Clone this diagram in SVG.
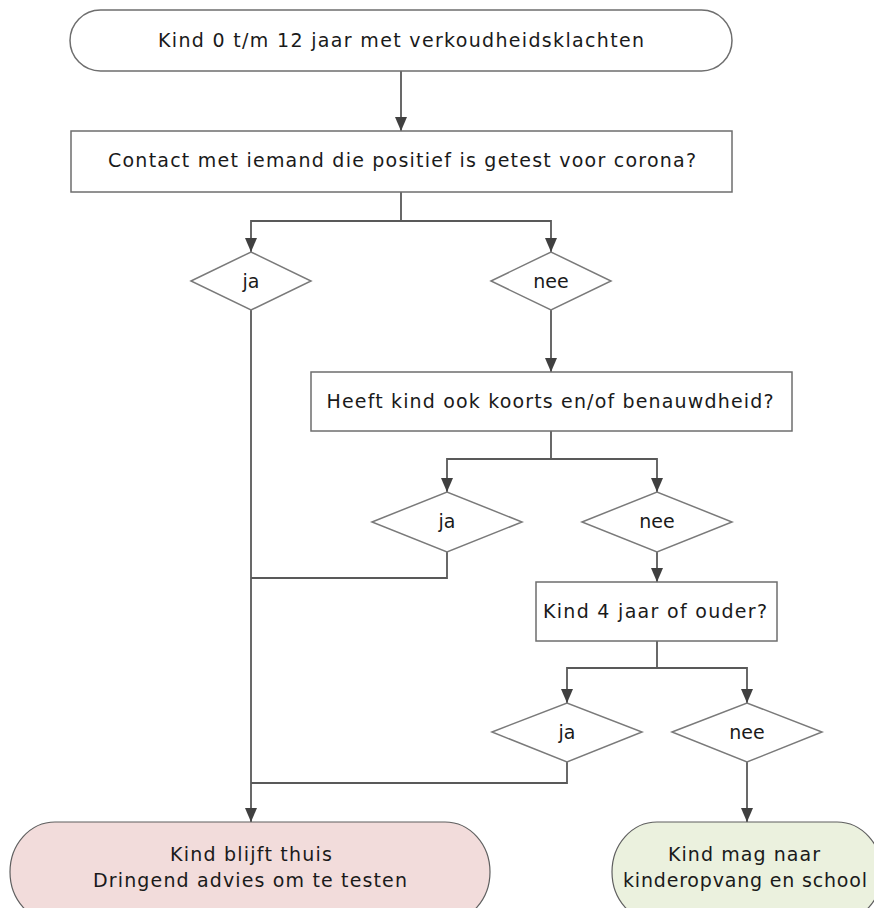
<svg xmlns="http://www.w3.org/2000/svg" width="874" height="908" viewBox="0 0 874 908">
<style>
.node{fill:#ffffff;stroke:#6e6e6e;stroke-width:1.5}
.dia{fill:#ffffff;stroke:#7a7a7a;stroke-width:1.5}
.stop{fill:#f2dcdb;stroke:#5f5f5f;stroke-width:1.2}
.go{fill:#ebf1de;stroke:#5f5f5f;stroke-width:1.2}
.t{font-family:"DejaVu Sans",Verdana,sans-serif;font-size:19px;fill:#1a1a1a;text-anchor:middle}
.c{fill:none;stroke:#595959;stroke-width:1.8}
</style>
<defs>
<marker id="ah" markerUnits="userSpaceOnUse" viewBox="0 0 14 12" refX="14" refY="6" markerWidth="14" markerHeight="12" orient="auto">
<path d="M0,0 L14,6 L0,12 z" fill="#404040"/>
</marker>
</defs>
<g id="connectors">
<path class="c" d="M401,71 V131" marker-end="url(#ah)"/>
<path class="c" d="M401,192 V221 H251 V252" marker-end="url(#ah)"/>
<path class="c" d="M401,221 H551 V252" marker-end="url(#ah)"/>
<path class="c" d="M251,310 V822" marker-end="url(#ah)"/>
<path class="c" d="M551,310 V372" marker-end="url(#ah)"/>
<path class="c" d="M551,431 V459 H447 V492" marker-end="url(#ah)"/>
<path class="c" d="M551,459 H657 V492" marker-end="url(#ah)"/>
<path class="c" d="M447,552 V578 H251"/>
<path class="c" d="M657,552 V582" marker-end="url(#ah)"/>
<path class="c" d="M657,641 V668 H567 V703" marker-end="url(#ah)"/>
<path class="c" d="M657,668 H747 V703" marker-end="url(#ah)"/>
<path class="c" d="M567,762 V783 H251"/>
<path class="c" d="M747,762 V822" marker-end="url(#ah)"/>
</g>
<g id="start">
<rect class="node" x="70" y="10" width="662" height="61" rx="30.5" ry="30.5"/>
<text class="t" x="401" y="47" textLength="486">Kind 0 t/m 12 jaar met verkoudheidsklachten</text>
</g>
<g id="q1">
<rect class="node" x="71" y="131" width="661" height="61"/>
<text class="t" x="402" y="167" textLength="588">Contact met iemand die positief is getest voor corona?</text>
</g>
<g id="q1-ja">
<polygon class="dia" points="191,281 251,252 311,281 251,310"/>
<text class="t" x="251" y="288">ja</text>
</g>
<g id="q1-nee">
<polygon class="dia" points="491,281 551,252 611,281 551,310"/>
<text class="t" x="551" y="288">nee</text>
</g>
<g id="q2">
<rect class="node" x="311" y="372" width="481" height="59"/>
<text class="t" x="550" y="408" textLength="447">Heeft kind ook koorts en/of benauwdheid?</text>
</g>
<g id="q2-ja">
<polygon class="dia" points="372,522 447,492 522,522 447,552"/>
<text class="t" x="447" y="528">ja</text>
</g>
<g id="q2-nee">
<polygon class="dia" points="582,522 657,492 732,522 657,552"/>
<text class="t" x="657" y="528">nee</text>
</g>
<g id="q3">
<rect class="node" x="536" y="582" width="241" height="59"/>
<text class="t" x="655" y="618" textLength="224">Kind 4 jaar of ouder?</text>
</g>
<g id="q3-ja">
<polygon class="dia" points="492,732 567,703 642,732 567,762"/>
<text class="t" x="567" y="739">ja</text>
</g>
<g id="q3-nee">
<polygon class="dia" points="672,732 747,703 822,732 747,762"/>
<text class="t" x="747" y="739">nee</text>
</g>
<g id="thuis">
<rect class="stop" x="10" y="822" width="480" height="100" rx="45" ry="50"/>
<text class="t" x="251" y="861" textLength="162">Kind blijft thuis</text>
<text class="t" x="250" y="887" textLength="314">Dringend advies om te testen</text>
</g>
<g id="school">
<rect class="go" x="612" y="822" width="270" height="100" rx="45" ry="50"/>
<text class="t" x="744" y="861" textLength="152">Kind mag naar</text>
<text class="t" x="745" y="887" textLength="244">kinderopvang en school</text>
</g>
</svg>
